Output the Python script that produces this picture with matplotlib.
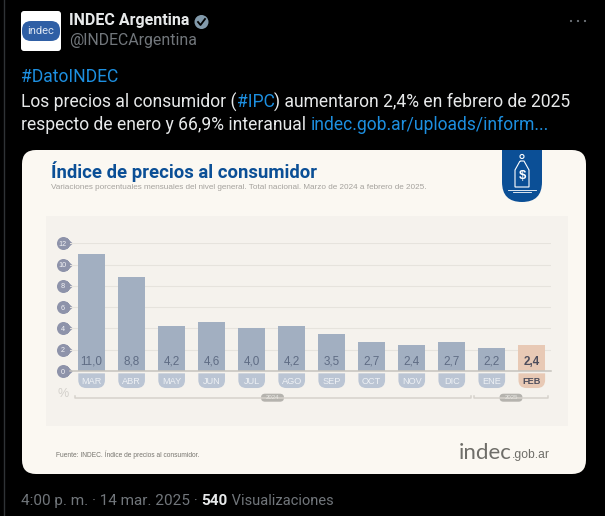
import matplotlib
matplotlib.use("Agg")
import matplotlib.pyplot as plt
from matplotlib.patches import Circle, FancyBboxPatch, PathPatch, Rectangle
from matplotlib.path import Path

# ---------------------------------
# Data
# ---------------------------------

months = ["MAR", "ABR", "MAY", "JUN", "JUL", "AGO", "SEP", "OCT", "NOV", "DIC", "ENE", "FEB"]
values = [11.0, 8.8, 4.2, 4.6, 4.0, 4.2, 3.5, 2.7, 2.4, 2.7, 2.2, 2.4]
value_labels = ["11,0", "8,8", "4,2", "4,6", "4,0", "4,2", "3,5", "2,7", "2,4", "2,7", "2,2", "2,4"]
y_ticks = [0, 2, 4, 6, 8, 10, 12]

# ---------------------------------
# Colours and fonts
# ---------------------------------

W, H = 605, 516
BLUE = "#1d8fe0"
NAVY = "#0b4f96"
BAR = "#a2afc1"
TAB = "#bbc5d4"
PEACH = "#e8c9b5"
CARD = "#fbf8f2"
PANEL = "#f5f2ed"
GREY = "#71767b"
LIGHT = "#e7e9ea"
UI = ["Roboto", "DejaVu Sans"]
HELV = ["Liberation Sans", "DejaVu Sans"]

fig = plt.figure(figsize=(W / 100, H / 100), dpi=100, facecolor="black")

# pixel canvas for everything around the chart
bg = fig.add_axes([0, 0, 1, 1])
bg.set_xlim(0, W)
bg.set_ylim(H, 0)
bg.axis("off")


def inline(x, y, parts, size):
    # draw coloured pieces of text one after the other
    rend = fig.canvas.get_renderer()
    for txt, col in parts:
        t = bg.text(x, y, txt, color=col, fontsize=size, family=UI, va="center", ha="left")
        x = x + t.get_window_extent(rend).width
    return x


# ---------------------------------
# Tweet header
# ---------------------------------

bg.plot([4, 4], [0, H], color="#2f3336", lw=1)

bg.add_patch(FancyBboxPatch((23, 13), 36, 36, boxstyle="round,pad=2,rounding_size=3", fc="white", ec="none"))
bg.add_patch(FancyBboxPatch((31, 30), 20, 2, boxstyle="round,pad=9,rounding_size=9", fc="#2f5fa5", ec="none"))
bg.text(41, 31, "indec", color="#dfe8f4", fontsize=8, family=UI, ha="center", va="center")

bg.text(69, 21, "INDEC Argentina", color=LIGHT, fontsize=11.5, family=UI, weight="bold", va="center")
bg.add_patch(Circle((201.5, 22), 7, fc="#829aab", ec="none"))
bg.plot([198, 200.5, 205], [22, 25, 19], color="black", lw=1.3)
bg.text(69, 41, "@INDECArgentina", color=GREY, fontsize=11.4, family=UI, va="center")
for dx in [571, 578, 585]:
    bg.add_patch(Circle((dx, 21), 1.1, fc=GREY, ec="none"))

inline(21, 77, [("#DatoINDEC", BLUE)], 12.65)
inline(21, 102, [("Los precios al consumidor (", LIGHT), ("#IPC", BLUE),
                 (") aumentaron 2,4% en febrero de 2025", LIGHT)], 12.65)
inline(21, 125, [("respecto de enero y 66,9% interanual ", LIGHT),
                 ("indec.gob.ar/uploads/inform...", BLUE)], 12.65)

# ---------------------------------
# Card
# ---------------------------------

bg.add_patch(FancyBboxPatch((34, 162), 540, 300, boxstyle="round,pad=12,rounding_size=14", fc=CARD, ec="none"))
bg.add_patch(Rectangle((46, 216), 522, 210, fc=PANEL, ec="none"))

bg.text(51, 171.5, "Índice de precios al consumidor", color=NAVY, fontsize=13.35, family=UI, weight="bold", va="center")
bg.text(51, 187.5, "Variaciones porcentuales mensuales del nivel general. Total nacional. Marzo de 2024 a febrero de 2025.",
        color="#a5a29d", fontsize=5.9, family=HELV, va="center")

# badge with the price tag
badge = Path([(502, 150), (542, 150), (542, 182), (542, 202), (522, 202), (502, 202), (502, 182), (502, 150)],
             [Path.MOVETO, Path.LINETO, Path.LINETO, Path.CURVE3, Path.CURVE3, Path.CURVE3, Path.CURVE3, Path.CLOSEPOLY])
bg.add_patch(PathPatch(badge, fc=NAVY, ec="none"))
tag = Path([(520, 161), (524, 161), (529, 170), (529, 187), (515, 187), (515, 170), (520, 161)])
bg.add_patch(PathPatch(tag, fc="none", ec="white", lw=0.8))
bg.add_patch(Circle((522, 156.5), 2, fc="none", ec="white", lw=0.8))
bg.text(522, 176, "$", color="white", fontsize=9.5, family=HELV, weight="bold", ha="center", va="center")
bg.plot([508, 536], [189.5, 189.5], color="white", lw=0.6)
bg.plot([513, 531], [192, 192], color="white", lw=0.6)

bg.text(55.5, 455, "Fuente: INDEC. Índice de precios al consumidor.", color="#77756f", fontsize=4.8, family=HELV, va="center")
bg.text(459, 453, "indec", color="#6f6e69", fontsize=16, family=["Lato", "DejaVu Sans"], va="center")
bg.text(511.5, 455, ".gob.ar", color="#6f6e69", fontsize=8.7, family=HELV, va="center")

# ---------------------------------
# Bar chart
# ---------------------------------

left, right, top, bottom = 70, 551, 243.3, 371
ax = fig.add_axes([left / W, 1 - bottom / H, (right - left) / W, (bottom - top) / H])
ax.patch.set_alpha(0)
ax.set_xlim(-0.54, 11.48)
ax.set_ylim(0, 12)
for s in ["top", "right", "left"]:
    ax.spines[s].set_visible(False)
ax.spines["bottom"].set_color("#c6c3bd")
ax.spines["bottom"].set_linewidth(1.1)

ax.set_axisbelow(True)
ax.grid(axis="y", color="#e6e3dd", lw=0.8)

colors = [BAR] * 11 + [PEACH]
ax.bar(range(len(values)), values, width=0.665, color=colors)
for i, lab in enumerate(value_labels):
    last = i == len(values) - 1
    ax.text(i, 0.3, lab, color="#4d4d5c" if last else "#5f6c84", fontsize=8.4, family=HELV,
            weight="bold" if last else "normal", ha="center", va="bottom")

# month tabs sit on the canvas below the chart axes so the tick labels stay on top
rx, ry = 0.2, 0.75
for i in range(len(months)):
    x0, x1 = i - 0.333, i + 0.333
    y0, y1 = -0.22, -1.6
    tab = Path([(x0, y0), (x1, y0), (x1, y1 + ry), (x1, y1), (x1 - rx, y1), (x0 + rx, y1), (x0, y1), (x0, y1 + ry), (x0, y0)],
               [Path.MOVETO, Path.LINETO, Path.LINETO, Path.CURVE3, Path.CURVE3, Path.LINETO, Path.CURVE3, Path.CURVE3, Path.CLOSEPOLY])
    bg.add_patch(PathPatch(tab, fc=PEACH if i == 11 else TAB, ec="none", transform=ax.transData, clip_on=False))

ax.set_xticks(range(len(months)), months)
ax.tick_params(axis="x", length=0, pad=4.2, labelsize=6.6)
for i, lab in enumerate(ax.get_xticklabels()):
    lab.set_family(HELV)
    lab.set_color("#4d4d5c" if i == 11 else "#eef1f5")
    lab.set_weight("bold" if i == 11 else "normal")

# y ticks: round markers with a small point, labels centred on them
pin = Path.make_compound_path(Path.circle((0, 0), 1.0), Path([(0.55, -0.8), (1.45, 0), (0.55, 0.8), (0.55, -0.8)]))
bg.scatter([-0.725] * len(y_ticks), y_ticks, marker=pin, s=185, color="#8e93aa", transform=ax.transData,
           clip_on=False, linewidths=0)
ax.set_yticks(y_ticks, [str(v) for v in y_ticks])
ax.tick_params(axis="y", length=0, pad=5.2, labelsize=5.2)
for lab in ax.get_yticklabels():
    lab.set_family(HELV)
    lab.set_color("#f3f3f6")
    lab.set_ha("center")

# year brackets
bg.text(63, 394, "%", color="#d3d0cb", fontsize=9, family=HELV, ha="center", va="center")
bg.plot([74.5, 74.5, 470.5, 470.5], [396, 397.5, 397.5, 395.5], color="#d6d2cc", lw=1.1)
bg.plot([474, 474, 548, 548], [395.5, 397.5, 397.5, 395.5], color="#d6d2cc", lw=1.1)
for cx, yr in [(272.5, "2024"), (511, "2025")]:
    bg.add_patch(FancyBboxPatch((cx - 9, 396.2), 18, 3, boxstyle="round,pad=2.5,rounding_size=4", fc="#b5b3ae", ec="none"))
    bg.text(cx, 397.7, yr, color="#e9e8e4", fontsize=4.3, family=HELV, ha="center", va="center")

# ---------------------------------
# Tweet footer
# ---------------------------------

fx = inline(21, 501, [("4:00 p. m. · 14 mar. 2025 · ", GREY)], 11)
t = bg.text(fx, 501, "540", color=LIGHT, fontsize=11, family=UI, weight="bold", va="center")
fx = fx + t.get_window_extent(fig.canvas.get_renderer()).width
inline(fx, 501, [(" Visualizaciones", GREY)], 10.5)

fig.savefig("out.png", dpi=100, facecolor="black")
